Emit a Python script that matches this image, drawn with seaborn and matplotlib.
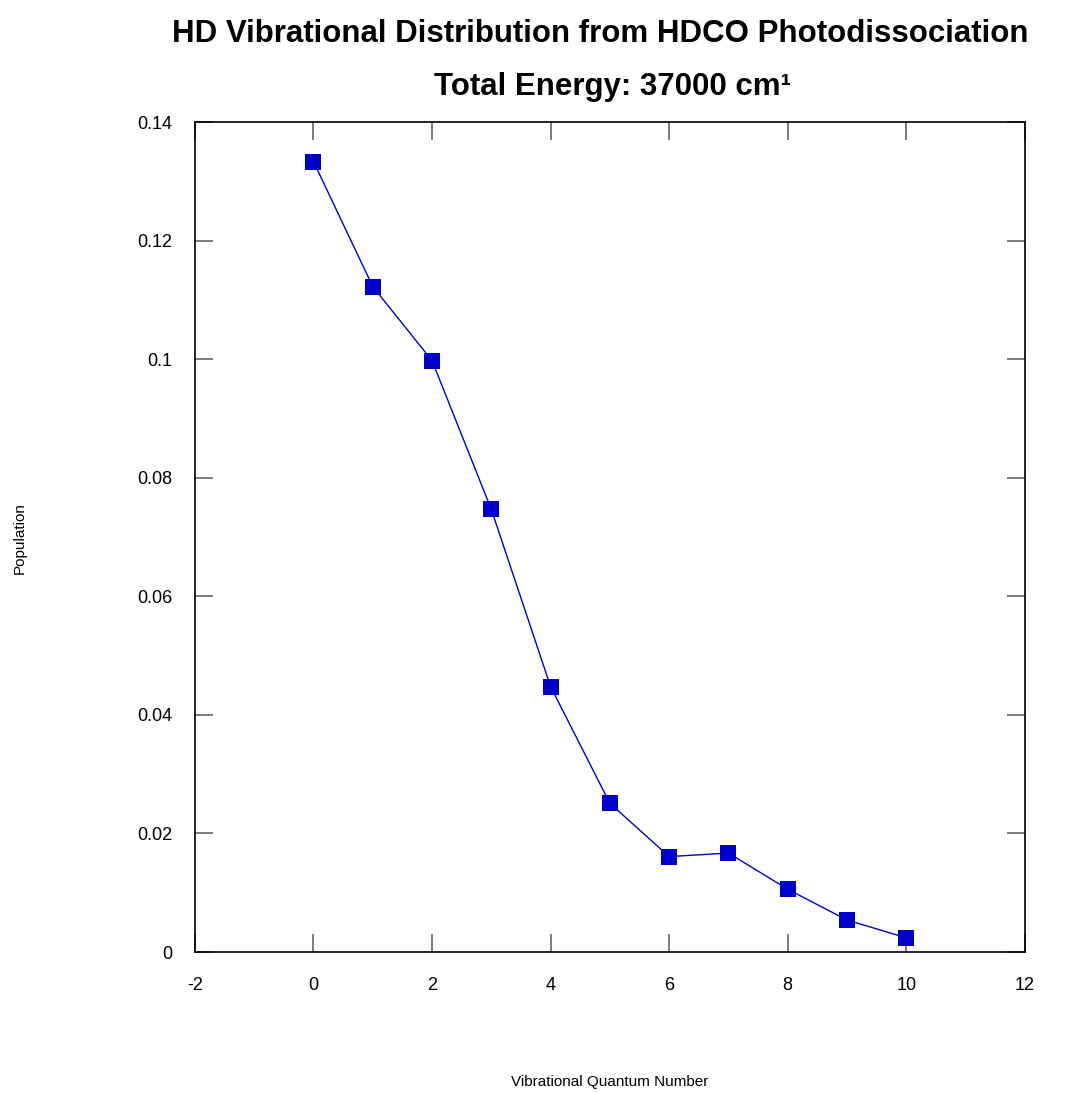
import numpy as np
import pandas as pd
import matplotlib
matplotlib.use("Agg")
import matplotlib.pyplot as plt
import seaborn as sns

# Datos
quantum_number = [0, 1, 2, 3, 4, 5, 6, 7, 8, 9, 10]
population = [0.1334, 0.1123, 0.0998, 0.0747, 0.0448, 0.0251, 0.0161, 0.0167, 0.0106, 0.0054, 0.0024]

df = pd.DataFrame({"v": quantum_number, "pop": population})

sns.set_style("white")
plt.rcParams['font.family'] = ['Liberation Sans', 'DejaVu Sans']
plt.rcParams['axes.unicode_minus'] = False
plt.rcParams['text.color'] = 'black'
plt.rcParams['xtick.color'] = 'black'
plt.rcParams['ytick.color'] = 'black'

fig = plt.figure(figsize=(10.89, 10.93), dpi=100)
ax = fig.add_axes([0.179, 0.129, 0.762, 0.759])

sns.lineplot(data=df, x="v", y="pop", ax=ax, color="#0000cc", linewidth=1,
             marker="s", markersize=11, markeredgewidth=0, markerfacecolor="#0000cc")

ax.set_xlim(-2, 12)
ax.set_ylim(0, 0.14)
ax.set_xticks(range(-2, 13, 2))
ax.set_yticks([0, 0.02, 0.04, 0.06, 0.08, 0.1, 0.12, 0.14])
ax.set_yticklabels(["0", "0.02", "0.04", "0.06", "0.08", "0.1", "0.12", "0.14"])

ax.tick_params(direction="in", length=13, width=1.2, color="#666666",
               top=True, right=True, bottom=True, left=True, labelsize=13)
ax.tick_params(axis="x", pad=18)
ax.tick_params(axis="y", pad=16)
for s in ax.spines.values():
    s.set_color("black")
    s.set_linewidth(1.2)

ax.set_xlabel("")
ax.set_ylabel("")
fig.text(0.018, 0.508, "Population", rotation=90, ha="center", va="center", fontsize=11)
fig.text(0.560, 0.004, "Vibrational Quantum Number", ha="center", va="bottom", fontsize=11)

fig.text(0.158, 0.962, "HD Vibrational Distribution from HDCO Photodissociation",
         ha="left", va="baseline", fontsize=22.5, fontweight="bold")
fig.text(0.562, 0.913, "Total Energy: 37000 cm¹",
         ha="center", va="baseline", fontsize=22.5, fontweight="bold")

fig.savefig("out.png", dpi=100)
